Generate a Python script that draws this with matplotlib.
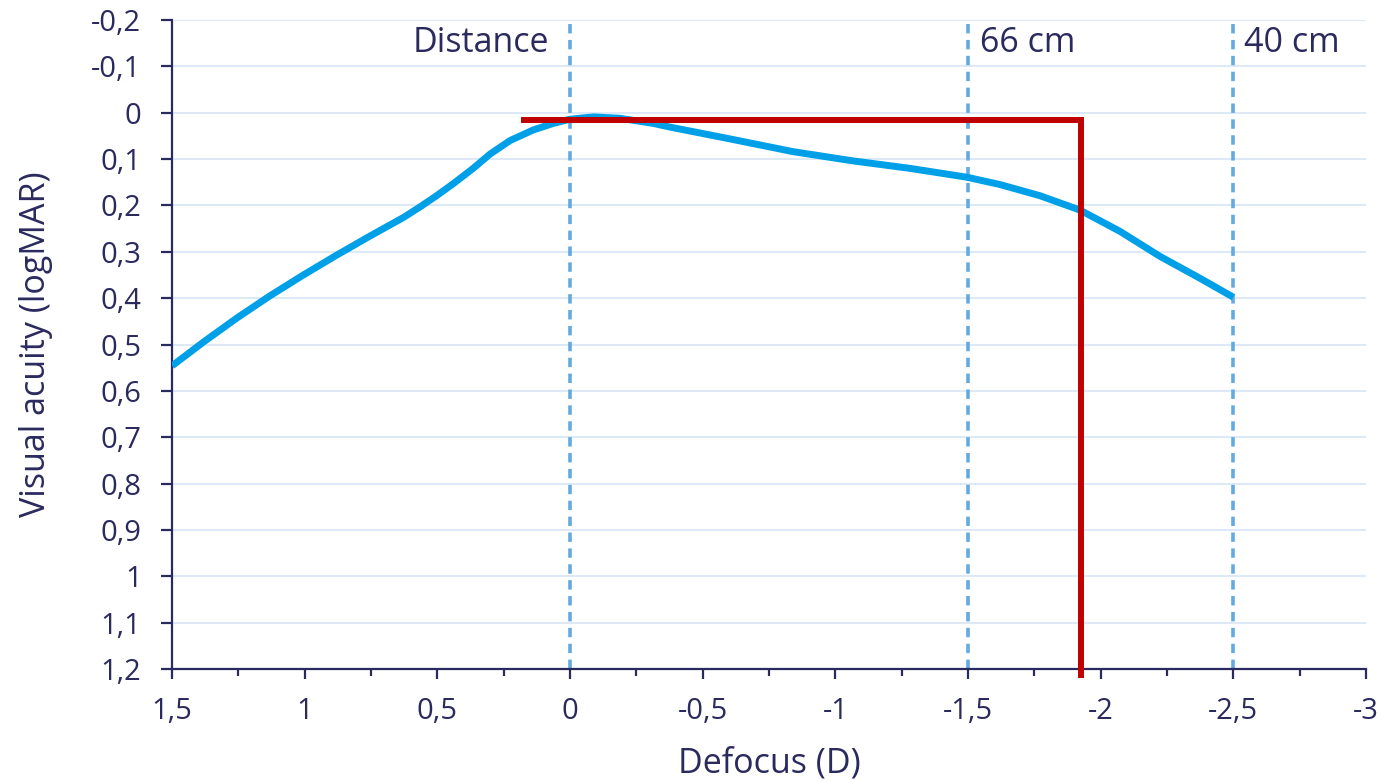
import matplotlib
matplotlib.use("Agg")
import matplotlib.pyplot as plt
import matplotlib.ticker as ticker

# --- data ---
defocus = [1.5, 1.38, 1.256, 1.131, 1.005, 0.879, 0.754, 0.628, 0.565, 0.503,
           0.44, 0.365, 0.301, 0.226, 0.138, 0.063, 0.0, -0.088, -0.188, -0.314,
           -0.377, -0.59, -0.841, -1.068, -1.281, -1.495, -1.621, -1.771, -1.922,
           -2.073, -2.224, -2.374, -2.5]
acuity = [0.546, 0.494, 0.443, 0.395, 0.350, 0.307, 0.266, 0.226, 0.203, 0.179,
          0.153, 0.120, 0.089, 0.060, 0.037, 0.023, 0.014, 0.009, 0.012, 0.023,
          0.031, 0.055, 0.084, 0.104, 0.120, 0.139, 0.155, 0.179, 0.210,
          0.256, 0.310, 0.357, 0.398]

ref_x = [0.0, -1.5, -2.5]
ref_labels = ["Distance", "66 cm", "40 cm"]

red_x = [0.185, -1.924, -1.924]
red_y = [0.0164, 0.0164, 1.219]

# --- style ---
NAVY = "#2b2a5e"
CURVE = "#00a0e9"
DASH = "#62aadf"
RED = "#c00000"
GRID = "#dde9f6"

plt.rcParams['font.family'] = ['Open Sans', 'DejaVu Sans']

fig = plt.figure(figsize=(13.83, 7.82), dpi=100)
ax = fig.add_axes([0.1244, 0.1445, 0.8633, 0.8299])

ax.set_xlim(1.5, -3)
ax.set_ylim(1.2, -0.2)

# horizontal gridlines
ax.yaxis.set_major_locator(ticker.MultipleLocator(0.1))
ax.grid(True, axis="y", color=GRID, lw=1.5, zorder=0)
ax.set_axisbelow(True)

# reference dashed lines
for xv in ref_x:
    ax.plot([xv, xv], [1.2, -0.2], color=DASH, lw=2.6, ls=(0, (2.6, 1.8)), zorder=2)

ax.text(ref_x[0] + 0.08, -0.13, ref_labels[0], ha="right", va="baseline",
        fontsize=24.5, color=NAVY)
ax.text(ref_x[1] - 0.045, -0.13, ref_labels[1], ha="left", va="baseline",
        fontsize=24.5, color=NAVY)
ax.text(ref_x[2] - 0.04, -0.13, ref_labels[2], ha="left", va="baseline",
        fontsize=24.5, color=NAVY)

# defocus curve
ax.plot(defocus, acuity, color=CURVE, lw=5, solid_joinstyle="round",
        solid_capstyle="butt", zorder=3)

# red marker line
ax.plot(red_x, red_y, color=RED, lw=4.3, solid_joinstyle="miter",
        solid_capstyle="butt", clip_on=False, zorder=4)

# axes formatting
def comma_fmt(v, pos):
    v = round(v, 2)
    if v == 0:
        v = 0.0
    return f"{v:g}".replace(".", ",")

ax.xaxis.set_major_locator(ticker.MultipleLocator(0.5))
ax.xaxis.set_minor_locator(ticker.MultipleLocator(0.25))
ax.xaxis.set_major_formatter(ticker.FuncFormatter(comma_fmt))
ax.yaxis.set_major_formatter(ticker.FuncFormatter(comma_fmt))

for side in ["top", "right"]:
    ax.spines[side].set_visible(False)
for side in ["left", "bottom"]:
    ax.spines[side].set_color(NAVY)
    ax.spines[side].set_linewidth(1.6)

ax.tick_params(axis="x", which="major", length=7.5, width=1.6, color=NAVY,
               labelsize=21, labelcolor=NAVY, pad=13)
ax.tick_params(axis="x", which="minor", length=5, width=1.6, color=NAVY)
ax.tick_params(axis="y", which="major", length=8, width=1.6, color=NAVY,
               labelsize=21, labelcolor=NAVY, pad=14)

ax.set_xlabel("Defocus (D)", fontsize=24.5, color=NAVY)
ax.set_ylabel("Visual acuity (logMAR)", fontsize=24.5, color=NAVY)
ax.xaxis.set_label_coords(0.5, -0.12)
ax.yaxis.set_label_coords(-0.1, 0.5)

fig.savefig("out.png", dpi=100)
